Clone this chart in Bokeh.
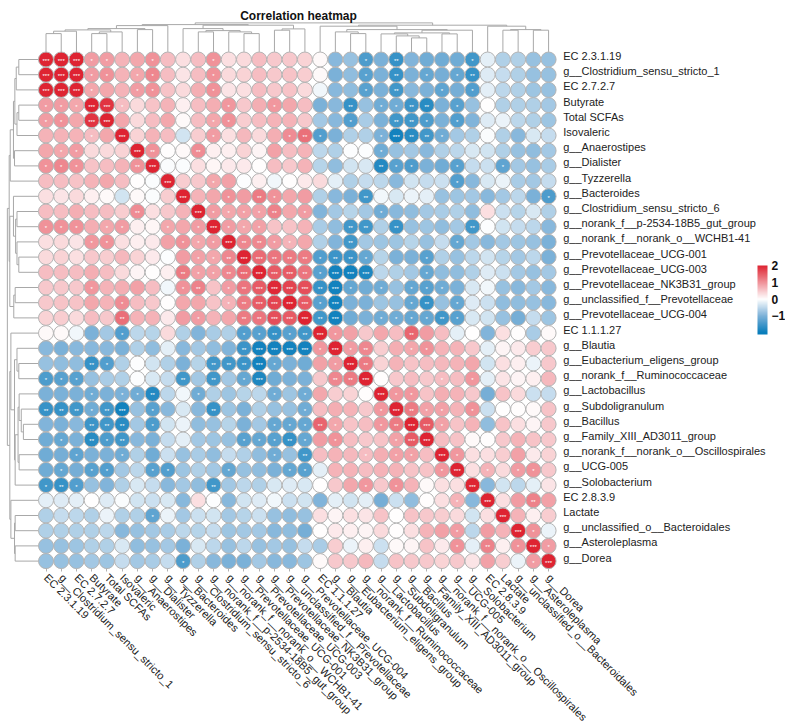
from bokeh.plotting import figure
from bokeh.models import (Range1d, LinearAxis, FixedTicker, ColumnDataSource, LinearColorMapper,
                          ColorBar, Label)
from bokeh.transform import transform
from bokeh.embed import file_html
from bokeh.resources import INLINE

title = "Correlation heatmap"
labels = ["EC 2.3.1.19", "g__Clostridium_sensu_stricto_1", "EC 2.7.2.7", "Butyrate", "Total SCFAs",
          "Isovaleric", "g__Anaerostipes", "g__Dialister", "g__Tyzzerella", "g__Bacteroides",
          "g__Clostridium_sensu_stricto_6", "g__norank_f__p-2534-18B5_gut_group",
          "g__norank_f__norank_o__WCHB1-41", "g__Prevotellaceae_UCG-001", "g__Prevotellaceae_UCG-003",
          "g__Prevotellaceae_NK3B31_group", "g__unclassified_f__Prevotellaceae",
          "g__Prevotellaceae_UCG-004", "EC 1.1.1.27", "g__Blautia", "g__Eubacterium_eligens_group",
          "g__norank_f__Ruminococcaceae", "g__Lactobacillus", "g__Subdoligranulum", "g__Bacillus",
          "g__Family_XIII_AD3011_group", "g__norank_f__norank_o__Oscillospirales", "g__UCG-005",
          "g__Solobacterium", "EC 2.8.3.9", "Lactate", "g__unclassified_o__Bacteroidales",
          "g__Asteroleplasma", "g__Dorea"]

# upper triangle of the symmetric matrix, row by row, starting at the diagonal
r00 = [2,2,2,.9,.9,.7,.8,1.0,.6,.3,.6,1.0,.3,.35,.6,.5,.5,.4,.05,-.9,-.8,-1.4,-1.0,-1.6,-.95,-1.1,-1.1,-1.1,-1.5,-.2,-.6,-.6,-.8,-.8]
r01 = [2,2,.9,1.0,.7,.8,1.1,.6,.25,.6,1.0,.35,.4,.6,.5,.55,.45,.05,-1.0,-.85,-1.3,-1.0,-1.6,-1.0,-1.2,-1.05,-1.2,-1.6,-.25,-.45,-.6,-.8,-.8]
r02 = [2,.8,.8,.7,.9,1.0,.55,.35,.75,1.0,.25,.3,.6,.5,.55,.35,-.1,-.9,-.85,-1.3,-1.0,-1.5,-.9,-1.0,-1.25,-1.05,-1.35,-.2,-.5,-.6,-.75,-.8]
r03 = [2,1.85,.6,.35,.55,.7,.15,.6,.75,.95,.5,.75,.95,.8,.6,-1.0,-.9,-1.6,-.8,-1.1,-1.1,-1.55,-1.7,-1.0,-1.3,-.8,0,-.6,-.6,-.6,-.7]
r04 = [2,.8,.35,.6,.8,.05,.6,.8,1.0,.45,.6,.7,.7,.5,-.7,-.9,-1.35,-.65,-1.0,-1.5,-1.5,-1.4,-1.0,-1.35,-.95,-.25,-.15,-.5,-.6,-.75]
r05 = [2,.4,.7,.6,-.35,.45,.9,.3,.65,.35,.75,1.05,1.3,-1.35,-1.0,-.6,-.6,-1.0,-1.9,-1.7,-1.5,-1.1,-.7,-.6,-.05,-.6,-.9,-.3,-.45]
r06 = [2,1.0,.03,.05,1.05,.15,.15,.4,.1,.85,.6,.7,-.5,-.6,-.02,-.03,-1.1,-.8,-.7,-.9,-.6,-.5,-.3,-.35,-.6,-.8,-.85,-.7]
r07 = [2,-.05,-.05,.3,.08,.2,.2,.03,.6,.5,.7,-.55,-.85,-.35,-.3,-1.75,-1.3,-1.4,-1.0,-1.1,-1.3,-.45,-.4,-1.25,-.7,-.8,-.65]
r08 = [2,.45,.5,.8,.85,-.02,.15,-.1,.02,.2,.35,-.2,-.6,-.45,-.5,-.9,-.35,-.45,-.4,-1.35,-.9,-.3,-.15,-.65,-.7,-.45]
r09 = [2,.7,.8,1.0,.9,1.2,1.0,.8,.9,-.6,-.9,-1.0,-1.5,-.1,-.3,-.15,-.2,-.8,-.75,-.7,-.9,-.7,-.5,-1.0,-1.4]
r10 = [2,.9,.8,.85,.85,1.15,.8,.9,-.95,-.7,-.55,-.7,-1.1,-.9,-.85,-.7,-.65,-.6,-.85,.3,-.4,-.55,-.3,-.6]
r11 = [2,.9,.8,.85,.55,.55,.7,-.65,-.85,-1.5,-1.5,-.6,-1.6,-.8,-.75,-.85,-.7,-1.5,-.03,-.35,-.45,-.5,-.9]
r12 = [2,1.1,1.1,.9,.7,.8,-.6,-.95,-1.5,-.7,-.75,-.75,-.55,-.8,-.45,-1.2,-.7,-.9,-.7,-.75,-.8,-1.0]
r13 = [2,1.35,1.25,1.2,1.2,-1.35,-1.55,-1.55,-1.2,-.55,-1.0,-1.0,-1.3,-.6,-.8,-.5,-.35,-.55,-.7,-.5,-1.0]
r14 = [2,1.5,1.5,1.25,-1.3,-1.9,-1.9,-1.8,-.5,-.6,-.7,-1.2,-.85,-.85,-.6,-.25,-.4,-.7,-.8,-.7]
r15 = [1.95,1.7,1.6,-1.6,-1.9,-1.2,-1.1,-1.1,-.8,-1.2,-1.3,-1.1,-1.0,-.3,-.1,-.8,-.9,-.7,-.9]
r16 = [2,1.5,-1.3,-1.9,-1.0,-1.0,-.75,-.8,-1.2,-1.6,-.8,-1.2,-.25,-.4,-.85,-.85,-.8,-.9]
r17 = [2,-1.5,-1.9,-1.1,-1.0,-1.1,-1.1,-1.2,-1.2,-1.5,-1.3,-.3,-.35,-.8,-1.05,-.45,-.75]
r18 = [2,.95,.85,.5,.8,.6,1.4,.9,.6,-.2,0,-.95,.3,.02,-.65,.05]
r19 = [2,.9,1.1,.45,.75,.8,1.0,.7,.7,.5,-.2,.1,.2,.45,.5]
r20 = [2,1.2,.4,.7,.55,.6,.65,.7,.8,-.35,.3,.15,-.15,.5]
r21 = [2,.03,.5,.6,.5,.6,.6,.95,-.2,.25,.1,.15,.65]
r22 = [2,.95,.95,.55,.75,.7,.5,-1.05,.55,.35,-.4,-.45]
r23 = [2,1.2,.85,.85,.7,1.0,-.4,0,.02,.05,.55]
r24 = [2,1.5,.85,.55,.7,-.85,.55,.3,.1,.5]
r25 = [2,.6,.55,.05,.02,.5,.7,.55,.5]
r26 = [2,.95,.3,.3,.45,.85,.2,.4]
r27 = [2,.3,.7,.35,.9,1.0,.5]
r28 = [2,-.9,-.35,-.5,-.2,.25]
r29 = [2,.3,.9,1.15,.85]
r30 = [2,.7,.15,.45]
r31 = [2,1.0,-.15]
r32 = [2,.9]
r33 = [2]
upper = [r00,r01,r02,r03,r04,r05,r06,r07,r08,r09,r10,r11,r12,r13,r14,r15,r16,r17,
         r18,r19,r20,r21,r22,r23,r24,r25,r26,r27,r28,r29,r30,r31,r32,r33]

# significance marks: row -> {column: number of asterisks}
stars = {
    0: {0:3,1:3,2:3,3:1,4:1,7:1,11:1,21:1,23:2,28:1},
    1: {1:3,2:3,3:1,4:1,6:1,7:1,11:1,21:1,23:2,25:1,27:1,28:2},
    2: {2:3,3:1,6:1,7:1,11:1,21:1,23:2,26:1,28:1},
    3: {3:3,4:3,5:1,12:1,15:1,20:2,22:1,23:1,24:2,25:2,27:1},
    4: {4:3,11:1,12:1,20:1,23:2,24:2,25:1,27:1},
    5: {5:3,11:1,16:1,17:2,18:1,22:1,23:3,24:2,25:2,26:1},
    6: {6:3,7:2,10:2,22:1},
    7: {7:3,22:2,23:1,24:1,27:1,30:1},
    8: {8:3,11:1,27:1},
    9: {9:3,12:1,14:2,15:1,21:2,33:1},
    10: {10:3,11:1,12:1,13:1,14:1,15:2,17:1,22:1},
    11: {11:3,12:1,13:1,14:1,20:2,21:2,23:2,28:2},
    12: {12:3,13:2,14:2,15:1,16:1,20:2,27:1},
    13: {13:3,14:3,15:2,16:2,17:2,18:1,19:2,20:2,21:1,25:1},
    14: {14:3,15:3,16:3,17:2,18:1,19:3,20:3,21:3,25:1},
    15: {15:3,16:3,17:3,18:2,19:3,20:1,22:1,24:1,25:1,26:1},
    16: {16:3,17:3,18:1,19:3,24:1,25:2,27:1},
    17: {17:3,18:2,19:3,22:1,23:1,24:1,25:1,26:2,27:1},
    18: {18:3,19:1,24:2},
    19: {19:3,20:1,21:2,24:1,25:1},
    20: {20:3,21:2},
    21: {21:3,26:1,28:1},
    22: {22:3,23:1,24:1},
    23: {23:3,24:2,25:1,26:1,28:1},
    24: {24:3,25:3,26:1},
    25: {25:3},
    26: {26:3,27:1},
    27: {27:3,29:1,31:1,32:1},
    28: {28:3},
    29: {29:3,32:2},
    30: {30:3},
    31: {31:3,32:1},
    32: {32:3,33:1},
    33: {33:3},
}

# cluster tree: each merge is (height, child, child); a child is a leaf index or a merge
a = (20.7, (18.3, 0, 1), 2)
b = (20.0, (18.3, 3, 4), 5)
c = (22.3, 6, 7)
left_part = (26.3, (23.3, (22.0, a, b), c), 8)
d = (20.0, 10, 11)
e = (20.0, 12, (18.3, 13, 14))
f = (23.0, (21.7, 15, 16), 17)
middle_part = (26.7, (23.3, 9, (21.3, d, e)), f)
h = (20.0, 19, (18.3, 20, 21))
i3 = (18.0, 22, (16.0, 23, (14.0, 24, 25)))
k = (21.7, (19.0, i3, (18.0, 26, 27)), 28)
n = (25.7, 18, (22.3, h, k))
r = (25.7, 29, (22.3, (21.7, 30, 31), (21.7, 32, 33)))
tree = (29.0, (27.3, left_part, middle_part), (26.7, n, r))

# geometry of the page
W, H = 785, 725
PX = 15.23
PY = 15.2
X0, Y0 = 45.5, 59.0

low, high = -2.1, 2.0
WHITE = (255, 255, 255)
RED_MID, RED_END = (240, 146, 153), (222, 36, 50)
BLUE_MID, BLUE_END = (124, 177, 216), (8, 125, 187)


def shade(v):
    mid, end = (RED_MID, RED_END) if v >= 0 else (BLUE_MID, BLUE_END)
    t = min(abs(v), 2.0)
    c0, c1, u = (WHITE, mid, t) if t <= 1 else (mid, end, t - 1)
    return "#%02x%02x%02x" % tuple(round(x0 + (x1 - x0) * u) for x0, x1 in zip(c0, c1))


palette = [shade(low + (high - low) * q / 255) for q in range(256)]
mapper = LinearColorMapper(palette=palette, low=low, high=high)

p = figure(width=W, height=H, output_backend="svg", toolbar_location=None, min_border=0,
           x_axis_location=None, y_axis_location=None, outline_line_color=None,
           x_range=Range1d(-X0 / PX, (W - X0) / PX), y_range=Range1d((H - Y0) / PY, -Y0 / PY))
p.grid.visible = False


# dendrograms: walk the tree, collecting (position, height, position, height) strokes
def walk(node, segs):
    if isinstance(node, int):
        return float(node), 0.0
    height, l, r_ = node
    lp, lh = walk(l, segs)
    rp, rh = walk(r_, segs)
    segs.append((lp, lh, lp, height))
    segs.append((rp, rh, rp, height))
    segs.append((lp, height, rp, height))
    return (lp + rp) / 2, height


segs = []
walk(tree, segs)
top_x0, top_y0, top_x1, top_y1 = [], [], [], []
left_x0, left_y0, left_x1, left_y1 = [], [], [], []
for s0, h0, s1, h1 in segs:
    top_x0.append(s0); top_x1.append(s1)
    top_y0.append(-0.5 - h0 / PY); top_y1.append(-0.5 - h1 / PY)
    left_y0.append(s0); left_y1.append(s1)
    left_x0.append(-0.5 - 1.07 * h0 / PX); left_x1.append(-0.5 - 1.07 * h1 / PX)
p.segment(top_x0, top_y0, top_x1, top_y1, line_color="#a8a8a8", line_width=1)
p.segment(left_x0, left_y0, left_x1, left_y1, line_color="#a8a8a8", line_width=1)

# cells
xs, ys, vals, sx, sy, st = [], [], [], [], [], []
for i, row in enumerate(upper):
    for q, v in enumerate(row):
        j = i + q
        xs.append(j); ys.append(i); vals.append(v)
        if i != j:
            xs.append(i); ys.append(j); vals.append(v)
    for j, cnt in stars[i].items():
        sx.append(j); sy.append(i); st.append("*" * cnt)
        if i != j:
            sx.append(i); sy.append(j); st.append("*" * cnt)

cells = ColumnDataSource(dict(x=xs, y=ys, v=vals))
p.scatter("x", "y", source=cells, size=15, marker="circle",
          fill_color=transform("v", mapper), line_color="#b4b4b4", line_width=1)
marks = ColumnDataSource(dict(x=sx, y=sy, t=st))
p.text("x", "y", text="t", source=marks, text_color="white", text_font_size="6px",
       text_align="center", text_baseline="middle", y_offset=1.5)

# axes; the row labels sit a little above the centre of their row
ticks = list(range(len(labels)))
row_ticks = [t - 0.23 for t in ticks]
ax_r = LinearAxis(ticker=FixedTicker(ticks=row_ticks),
                  major_label_overrides={t: s for t, s in zip(row_ticks, labels)}, fixed_location=33.5)
ax_b = LinearAxis(ticker=FixedTicker(ticks=ticks),
                  major_label_overrides={t: s for t, s in zip(ticks, labels)}, fixed_location=33.5,
                  major_label_orientation=-0.785398)
for ax in (ax_r, ax_b):
    ax.axis_line_color = None
    ax.minor_tick_line_color = None
    ax.major_tick_line_color = "#b0b0b0"
    ax.major_tick_in = 0
    ax.major_tick_out = 3
    ax.major_label_standoff = 4
    ax.major_label_text_font = "Liberation Sans"
    ax.major_label_text_font_size = "11px"
    ax.major_label_text_color = "#222222"
ax_r.major_tick_line_color = None
p.add_layout(ax_r, "right")
p.add_layout(ax_b, "below")

p.add_layout(Label(x=(298 - X0) / PX, y=(15.5 - Y0) / PY, text=title, text_font="Liberation Sans",
                   text_font_size="12px", text_font_style="bold", text_align="center",
                   text_baseline="alphabetic", text_color="#111111"))

bar = ColorBar(color_mapper=mapper, location=(757, 391), width=10, height=69, padding=0, margin=0,
               ticker=FixedTicker(ticks=[-1, 0, 1, 2]), major_tick_line_color=None,
               minor_tick_line_color=None, bar_line_color=None, background_fill_color=None,
               border_line_color=None, major_label_text_font="Liberation Sans",
               major_label_text_font_size="12px", major_label_text_font_style="bold",
               major_label_text_color="#111111", label_standoff=4)
p.add_layout(bar)

open("out.html", "w").write(file_html(p, INLINE))
